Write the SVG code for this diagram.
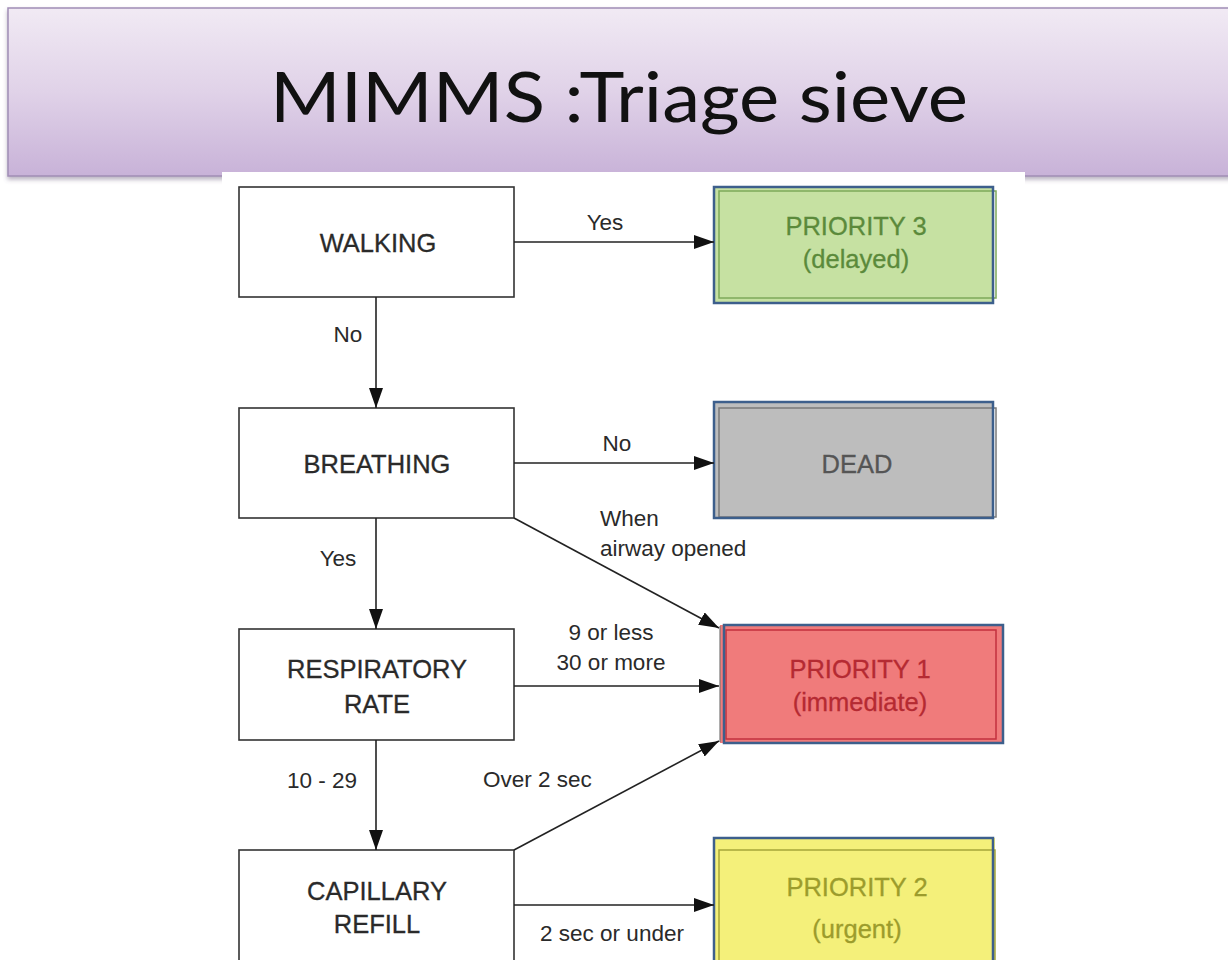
<svg xmlns="http://www.w3.org/2000/svg" width="1228" height="960" viewBox="0 0 1228 960">
  <defs>
    <linearGradient id="bannerGrad" x1="0" y1="0" x2="0" y2="1">
      <stop offset="0" stop-color="#f1eaf4"/>
      <stop offset="0.5" stop-color="#e0d2e8"/>
      <stop offset="1" stop-color="#c8b2d8"/>
    </linearGradient>
    <filter id="bannerShadow" x="-5%" y="-10%" width="110%" height="130%">
      <feDropShadow dx="0" dy="3" stdDeviation="2" flood-color="#6b5a7a" flood-opacity="0.45"/>
    </filter>
    <marker id="arrow" viewBox="0 0 20 14" refX="20" refY="7" markerWidth="20" markerHeight="14" markerUnits="userSpaceOnUse" orient="auto">
      <path d="M0,0 L20,7 L0,14 Z" fill="#111"/>
    </marker>
    <style>
      .title { font-family: "Lato", "Open Sans", sans-serif; font-size: 69px; fill: #111; }
      .box { fill: #fff; stroke: #333; stroke-width: 1.6; }
      .label { font-family: "Liberation Sans", Arial, sans-serif; font-size: 25.5px; fill: #2a2a2a; text-anchor: middle; stroke: currentColor; stroke-width: 0.3; }
      .edge { font-family: "Liberation Sans", Arial, sans-serif; font-size: 22.5px; fill: #2a2a2a; }
      .mid { text-anchor: middle; }
      .conn { stroke: #222; stroke-width: 1.6; fill: none; marker-end: url(#arrow); }
      .outer { fill: none; stroke: #3d5f8c; stroke-width: 2.5; }
    </style>
  </defs>

  <rect width="1228" height="960" fill="#fff"/>

  <!-- title banner -->
  <g id="banner">
    <rect x="8" y="8" width="1230" height="168" fill="url(#bannerGrad)" stroke="#a08db5" stroke-width="1.5" filter="url(#bannerShadow)"/>
    <text class="title" x="619" y="122" text-anchor="middle" textLength="698" lengthAdjust="spacingAndGlyphs">MIMMS :Triage sieve</text>
  </g>

  <!-- flowchart panel overlapping the banner edge -->
  <rect x="222" y="172" width="803" height="790" fill="#fff"/>

  <!-- decision nodes -->
  <g id="walking" color="#2a2a2a">
    <rect class="box" x="239" y="187" width="275" height="110"/>
    <text class="label" x="378" y="252">WALKING</text>
  </g>
  <g id="breathing" color="#2a2a2a">
    <rect class="box" x="239" y="408" width="275" height="110"/>
    <text class="label" x="377" y="473">BREATHING</text>
  </g>
  <g id="respiratory" color="#2a2a2a">
    <rect class="box" x="239" y="629" width="275" height="111"/>
    <text class="label" x="377" y="678">RESPIRATORY</text>
    <text class="label" x="377" y="713">RATE</text>
  </g>
  <g id="capillary" color="#2a2a2a">
    <rect class="box" x="239" y="850" width="275" height="120"/>
    <text class="label" x="377" y="900">CAPILLARY</text>
    <text class="label" x="377" y="933">REFILL</text>
  </g>

  <!-- outcome nodes -->
  <g id="priority3" color="#5b8a3b">
    <rect x="714" y="187" width="279" height="116" fill="#c6e1a2"/>
    <rect x="719" y="191" width="277" height="107" fill="none" stroke="#7ea95a" stroke-width="1.5"/>
    <rect class="outer" x="714" y="187" width="279" height="116"/>
    <text class="label" x="856" y="235" style="fill:#5b8a3b">PRIORITY 3</text>
    <text class="label" x="856" y="268" style="fill:#5b8a3b">(delayed)</text>
  </g>
  <g id="dead" color="#555">
    <rect x="714" y="402" width="279" height="116" fill="#bdbdbd"/>
    <rect x="719" y="408" width="277" height="109" fill="none" stroke="#7a7a7a" stroke-width="1.5"/>
    <rect class="outer" x="714" y="402" width="279" height="116"/>
    <text class="label" x="857" y="473" style="fill:#555">DEAD</text>
  </g>
  <g id="priority1" color="#b52a32">
    <rect x="720" y="625" width="283" height="118" fill="#f07b7b"/>
    <rect x="726" y="630" width="270" height="109" fill="none" stroke="#c2303e" stroke-width="1.5"/>
    <rect class="outer" x="724" y="625" width="279" height="118"/>
    <line x1="720" y1="626" x2="720" y2="742" stroke="#777" stroke-width="1.2"/>
    <text class="label" x="860" y="678" style="fill:#b52a32">PRIORITY 1</text>
    <text class="label" x="860" y="711" style="fill:#b52a32">(immediate)</text>
  </g>
  <g id="priority2" color="#9c9c2c">
    <rect x="714" y="838" width="281" height="125" fill="#f4f07a"/>
    <rect x="719" y="850" width="276" height="115" fill="none" stroke="#a5a53a" stroke-width="1.5"/>
    <rect class="outer" x="714" y="838" width="279" height="125"/>
    <text class="label" x="857" y="896" style="fill:#9c9c2c">PRIORITY 2</text>
    <text class="label" x="857" y="938" style="fill:#9c9c2c">(urgent)</text>
  </g>

  <!-- connectors -->
  <g id="connectors">
    <line class="conn" x1="514" y1="242" x2="714" y2="242"/>
    <line class="conn" x1="376" y1="297" x2="376" y2="408"/>
    <line class="conn" x1="514" y1="463" x2="714" y2="463"/>
    <line class="conn" x1="514" y1="518" x2="719" y2="628"/>
    <line class="conn" x1="376" y1="518" x2="376" y2="629"/>
    <line class="conn" x1="514" y1="686" x2="719" y2="686"/>
    <line class="conn" x1="376" y1="740" x2="376" y2="850"/>
    <line class="conn" x1="514" y1="850" x2="719" y2="741"/>
    <line class="conn" x1="514" y1="905" x2="714" y2="905"/>

    <text class="edge mid" x="605" y="230">Yes</text>
    <text class="edge mid" x="348" y="342">No</text>
    <text class="edge mid" x="617" y="451">No</text>
    <text class="edge" x="600" y="526">When</text>
    <text class="edge" x="600" y="556">airway opened</text>
    <text class="edge mid" x="338" y="566">Yes</text>
    <text class="edge mid" x="611" y="640">9 or less</text>
    <text class="edge mid" x="611" y="670">30 or more</text>
    <text class="edge mid" x="322" y="788">10 - 29</text>
    <text class="edge" x="483" y="787">Over 2 sec</text>
    <text class="edge mid" x="612" y="941">2 sec or under</text>
  </g>
</svg>
